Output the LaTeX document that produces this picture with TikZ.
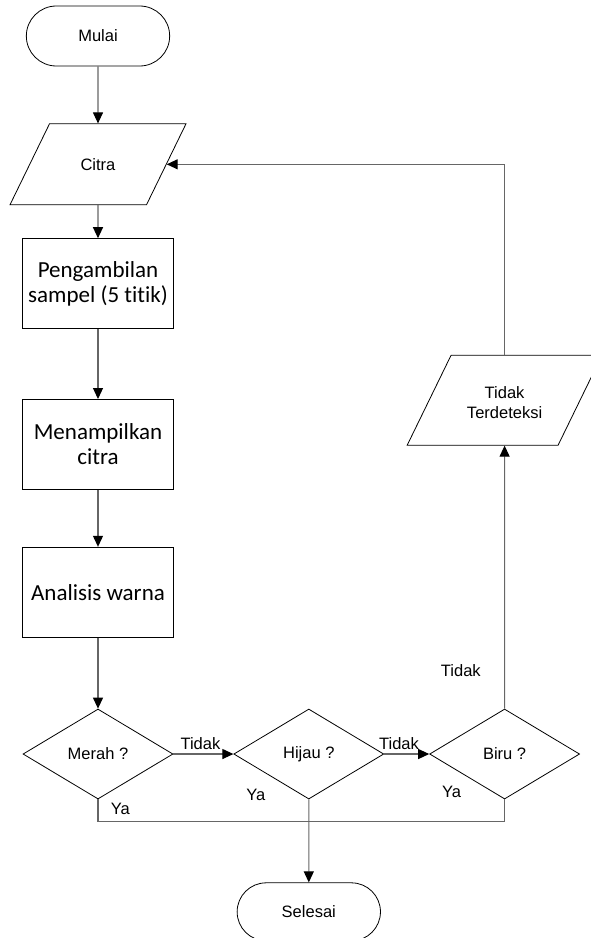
\documentclass[tikz,border=0pt]{standalone}
\usepackage{fontspec}
\setmainfont{Liberation Sans}
\newfontfamily\calibri[Ligatures=NoCommon]{Carlito}
\usepackage{tikz}
\usetikzlibrary{shapes,arrows.meta,positioning,calc}

\begin{document}
\begin{tikzpicture}[x=1pt, y=-1pt,
    every node/.style={font=\fontsize{16.5}{20}\selectfont},
    terminal/.style={rounded rectangle, draw, line width=0.8pt, minimum width=150pt, minimum height=60pt},
    io/.style={trapezium, trapezium left angle=64, trapezium right angle=116, draw, line width=0.8pt, align=center, inner sep=0pt},
    proses/.style={rectangle, draw, line width=0.8pt, minimum width=151pt, minimum height=90pt, align=center, font=\calibri\fontsize{23}{25}\selectfont},
    keputusan/.style={diamond, draw, line width=0.8pt, minimum width=150pt, minimum height=90pt, inner sep=0pt},
    garis/.style={draw=black!60, line width=1.1pt},
    panah/.style={garis, -{Triangle[length=11pt, width=10pt, color=black]}}]
    \useasboundingbox (0,0) rectangle (590,938);

    \node (mulai) [terminal] at (98,36) {Mulai};
    \node (citra) [io, below=57pt of mulai, text width=97pt, text height=47pt, text depth=34pt] {Citra};
    \node (sampel) [proses, below=33pt of citra] {Pengambilan\\sampel (5 titik)};
    \node (tampil) [proses, below=70pt of sampel] {Menampilkan\\citra};
    \node (analisis) [proses, below=57pt of tampil] {Analisis warna};

    \node (merah) [keputusan, below=71pt of analisis] {Merah ?};
    \node (hijau) [keputusan, right=60pt of merah] {Hijau ?};
    \node (biru) [keputusan, right=45pt of hijau] {Biru ?};
    \node (tidakdet) [io, above=263pt of biru, text width=107pt, text height=43pt, text depth=47pt] {Tidak\\Terdeteksi};
    \node (selesai) [terminal, below=83pt of hijau, minimum height=58pt] {Selesai};
    \coordinate [below=22.5pt of hijau.south] (gabung);

    \draw [panah] (mulai) -- (citra);
    \draw [panah] (citra) -- (sampel);
    \draw [panah] (sampel) -- (tampil);
    \draw [panah] (tampil) -- (analisis);
    \draw [panah] (analisis) -- (merah);

    \draw [panah] (merah) -- node (tidakmerah) [above, pos=0.45] {Tidak} (hijau);
    \draw [panah] (hijau) -- node (tidakhijau) [above, pos=0.33] {Tidak} (biru);
    \draw [panah] (biru) -- node (tidakbiru) [left=20pt, pos=0.144] {Tidak} (tidakdet);
    \draw [panah] (tidakdet) |- (citra);

    % jalur Ya menuju Selesai
    \draw [garis] (merah) |- node (yamerah) [right=9pt, pos=0.2] {Ya} (gabung) -| (biru);
    \draw [panah] (hijau) -- (selesai);
    \node (yahijau) at ([xshift=-53pt, yshift=5pt]hijau.south) {Ya};
    \node (yabiru) at ([xshift=-53pt, yshift=7.5pt]biru.south) {Ya};
\end{tikzpicture}
\end{document}
